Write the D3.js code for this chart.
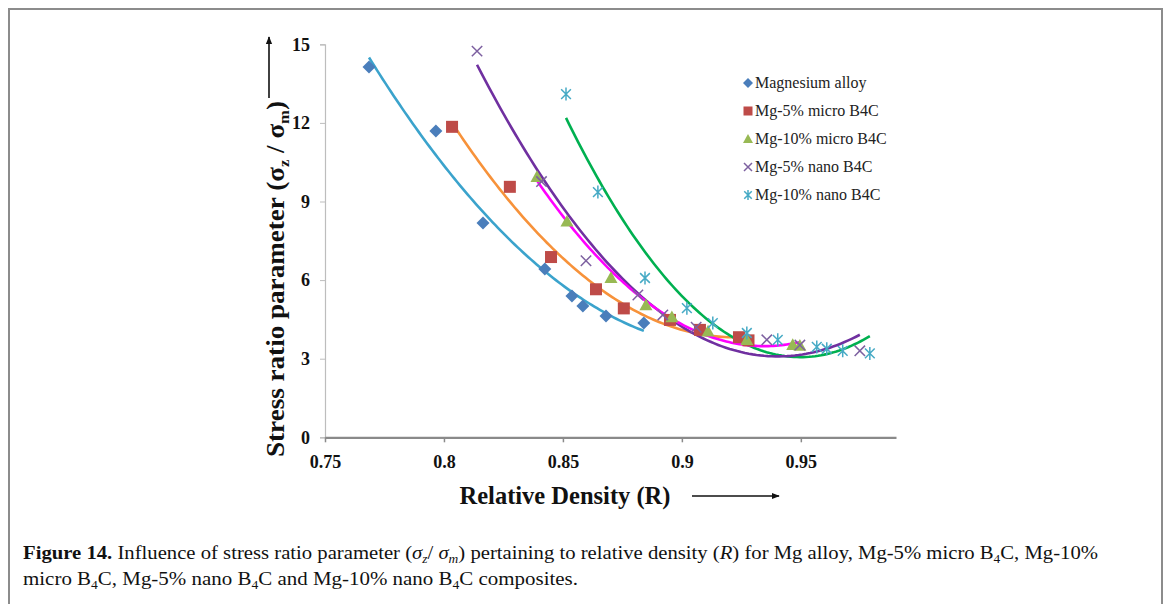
<!DOCTYPE html>
<html>
<head>
<meta charset="utf-8">
<script src="https://cdn.jsdelivr.net/npm/d3@7"></script>
<style>
  body { margin: 0; background: #fff; }
  svg { display: block; }
</style>
</head>
<body>
<div class="fig"></div>
<script>
var width = 1168;
var height = 604;

// data
var alloyX = [0.7685, 0.7966, 0.8164, 0.8424, 0.8538, 0.8584, 0.8681, 0.884];
var alloyY = [14.13, 11.69, 8.18, 6.42, 5.39, 5.01, 4.63, 4.36];

var micro5X = [0.8034, 0.8277, 0.845, 0.8639, 0.8756, 0.895, 0.9076, 0.924, 0.928];
var micro5Y = [11.85, 9.56, 6.88, 5.65, 4.92, 4.48, 4.1, 3.82, 3.7];

var micro10X = [0.8391, 0.8517, 0.8702, 0.8849, 0.8958, 0.911, 0.9273, 0.9466, 0.9496];
var micro10Y = [9.94, 8.24, 6.09, 5.05, 4.59, 4.05, 3.72, 3.53, 3.5];

var nano5X = [0.8139, 0.841, 0.8597, 0.8815, 0.892, 0.906, 0.9357, 0.9496, 0.9748];
var nano5Y = [14.74, 9.76, 6.74, 5.43, 4.67, 4.2, 3.72, 3.52, 3.3];

var nano10X = [0.8513, 0.8647, 0.8845, 0.9021, 0.913, 0.9273, 0.9403, 0.9567, 0.9609, 0.9676, 0.979];
var nano10Y = [13.1, 9.36, 6.08, 4.93, 4.36, 3.98, 3.72, 3.45, 3.38, 3.3, 3.2];

var seriesNames = ["Magnesium alloy", "Mg-5% micro B4C", "Mg-10% micro B4C", "Mg-5% nano B4C", "Mg-10% nano B4C"];
var markerColors = ["#4a7ebb", "#be4b48", "#98b954", "#7d60a0", "#46aac5"];
var trendColors = ["#3ba3cc", "#f7923a", "#ff00ff", "#7030a0", "#00b050"];
var markerTypes = ["diamond", "square", "triangle", "cross", "star"];

var xTicks = [0.75, 0.8, 0.85, 0.9, 0.95];
var yTicks = [0, 3, 6, 9, 12, 15];

var series = [
  {x: alloyX, y: alloyY},
  {x: micro5X, y: micro5Y},
  {x: micro10X, y: micro10Y},
  {x: nano5X, y: nano5Y},
  {x: nano10X, y: nano10Y}
];

var svg = d3.select(".fig").append("svg")
    .attr("width", width)
    .attr("height", height);

// figure frame
svg.append("rect")
    .attr("x", 9).attr("y", 9)
    .attr("width", 1153).attr("height", 620)
    .attr("fill", "none")
    .attr("stroke", "#8c8c8c")
    .attr("stroke-width", 2);

var x = d3.scaleLinear().domain([0.75, 0.99]).range([325, 896]);
var y = d3.scaleLinear().domain([0, 15]).range([437.3, 44.3]);

var serif = "'Liberation Serif', 'Times New Roman', serif";

// y axis
var yAxis = svg.append("g")
    .attr("transform", "translate(" + x(0.75) + ",0)")
    .call(d3.axisLeft(y).tickValues(yTicks).tickSize(5).tickPadding(10).tickFormat(d3.format("d")));
yAxis.select(".domain").attr("stroke", "#bdbdbd").attr("stroke-width", 1.2);
yAxis.selectAll(".tick line").attr("stroke", "#bdbdbd");
yAxis.selectAll(".tick text")
    .attr("font-family", serif).attr("font-weight", "bold")
    .attr("font-size", 18).attr("fill", "#111");

// x axis
var xAxis = svg.append("g")
    .attr("transform", "translate(0," + y(0) + ")")
    .call(d3.axisBottom(x).tickValues(xTicks).tickSize(5).tickPadding(13).tickSizeOuter(0).tickFormat(d3.format("")));
xAxis.select(".domain").attr("stroke", "#8a8a8a").attr("stroke-width", 2.2);
xAxis.selectAll(".tick line").attr("stroke", "#8a8a8a").attr("stroke-width", 1.5);
xAxis.selectAll(".tick text")
    .attr("font-family", serif).attr("font-weight", "bold")
    .attr("font-size", 18).attr("fill", "#111");

// least squares quadratic (Excel polynomial trendline, order 2)
function polyfit2(xs, ys) {
  var s = [0, 0, 0, 0, 0], t = [0, 0, 0];
  var x0 = d3.mean(xs);
  xs.forEach(function(v, i) {
    var u = v - x0, p = 1;
    for (var k = 0; k < 5; k++) { s[k] += p; if (k < 3) t[k] += p * ys[i]; p *= u; }
  });
  var A = [[s[0], s[1], s[2], t[0]], [s[1], s[2], s[3], t[1]], [s[2], s[3], s[4], t[2]]];
  for (var i = 0; i < 3; i++) {
    for (var j = i + 1; j < 3; j++) {
      var f = A[j][i] / A[i][i];
      for (var k = i; k < 4; k++) A[j][k] -= f * A[i][k];
    }
  }
  var c = [0, 0, 0];
  for (var i = 2; i >= 0; i--) {
    var sum = A[i][3];
    for (var k = i + 1; k < 3; k++) sum -= A[i][k] * c[k];
    c[i] = sum / A[i][i];
  }
  return function(v) { var u = v - x0; return c[0] + c[1] * u + c[2] * u * u; };
}

var line = d3.line()
    .x(function(d) { return x(d[0]); })
    .y(function(d) { return y(d[1]); });

var trendOrder = [0, 1, 4, 3, 2];
trendOrder.forEach(function(i) {
  var s = series[i];
  var f = polyfit2(s.x, s.y);
  var lo = d3.min(s.x), hi = d3.max(s.x);
  var pts = d3.range(0, 101).map(function(k) {
    var v = lo + (hi - lo) * k / 100;
    return [v, f(v)];
  });
  svg.append("path")
      .attr("d", line(pts))
      .attr("fill", "none")
      .attr("stroke", trendColors[i])
      .attr("stroke-width", 2.6);
});

function drawMarker(g, type, color, size) {
  var r = size / 2;
  if (type == "diamond") {
    g.append("path").attr("d", "M0," + (-r) + "L" + r + ",0L0," + r + "L" + (-r) + ",0Z").attr("fill", color);
  } else if (type == "square") {
    g.append("rect").attr("x", -r + 0.5).attr("y", -r + 0.5).attr("width", size - 1).attr("height", size - 1).attr("fill", color);
  } else if (type == "triangle") {
    g.append("path").attr("d", "M0," + (-r) + "L" + r + "," + (r * 0.8) + "L" + (-r) + "," + (r * 0.8) + "Z").attr("fill", color);
  } else if (type == "cross") {
    var q = r * 0.8;
    g.append("path").attr("d", "M" + (-q) + "," + (-q) + "L" + q + "," + q + "M" + (-q) + "," + q + "L" + q + "," + (-q))
      .attr("stroke", color).attr("stroke-width", 1.5).attr("fill", "none");
  } else if (type == "star") {
    var q = r * 0.75;
    g.append("path").attr("d", "M" + (-q) + "," + (-q) + "L" + q + "," + q + "M" + (-q) + "," + q + "L" + q + "," + (-q) + "M0," + (-r) + "L0," + r)
      .attr("stroke", color).attr("stroke-width", 1.5).attr("fill", "none");
  }
}

series.forEach(function(s, i) {
  s.x.forEach(function(v, k) {
    var g = svg.append("g").attr("transform", "translate(" + x(v) + "," + y(s.y[k]) + ")");
    drawMarker(g, markerTypes[i], markerColors[i], 13);
  });
});

// legend
var legend = svg.append("g").attr("transform", "translate(748,83)");
seriesNames.forEach(function(name, i) {
  var g = legend.append("g").attr("transform", "translate(0," + (i * 28) + ")");
  drawMarker(g, markerTypes[i], markerColors[i], 10);
  g.append("text")
      .attr("x", 7).attr("y", 5)
      .attr("font-family", serif).attr("font-size", 16).attr("fill", "#222")
      .text(name);
});

// axis titles
svg.append("text")
    .attr("x", 565).attr("y", 504)
    .attr("text-anchor", "middle")
    .attr("font-family", serif).attr("font-weight", "bold")
    .attr("font-size", 24.5).attr("fill", "#111")
    .text("Relative Density (R)");

svg.append("defs").append("marker")
    .attr("id", "arrow").attr("viewBox", "0 0 10 10")
    .attr("refX", 9).attr("refY", 5)
    .attr("markerWidth", 8).attr("markerHeight", 8)
    .attr("markerUnits", "userSpaceOnUse")
    .attr("orient", "auto")
  .append("path").attr("d", "M0,1L10,5L0,9Z").attr("fill", "#111");

svg.append("line")
    .attr("x1", 692).attr("y1", 496).attr("x2", 779).attr("y2", 496)
    .attr("stroke", "#111").attr("stroke-width", 1.6)
    .attr("marker-end", "url(#arrow)");

var yt = svg.append("text")
    .attr("transform", "translate(284,279) rotate(-90)")
    .attr("text-anchor", "middle")
    .attr("font-family", serif).attr("font-weight", "bold")
    .attr("font-size", 24.5).attr("fill", "#111")
    .attr("textLength", 356).attr("lengthAdjust", "spacingAndGlyphs");
yt.append("tspan").text("Stress ratio parameter (");
yt.append("tspan").text("σ");
yt.append("tspan").attr("font-size", 15).attr("dy", 5).text("z");
yt.append("tspan").attr("dy", -5).text(" / ");
yt.append("tspan").text("σ");
yt.append("tspan").attr("font-size", 15).attr("dy", 5).text("m");
yt.append("tspan").attr("dy", -5).text(")");

svg.append("line")
    .attr("x1", 269).attr("y1", 98).attr("x2", 269).attr("y2", 37)
    .attr("stroke", "#111").attr("stroke-width", 1.6)
    .attr("marker-end", "url(#arrow)");

// caption
var cap1 = svg.append("text")
    .attr("x", 23).attr("y", 559)
    .attr("font-family", serif).attr("font-size", 18.5).attr("fill", "#111")
    .attr("textLength", 1075).attr("lengthAdjust", "spacingAndGlyphs");
cap1.append("tspan").attr("font-weight", "bold").text("Figure 14.");
cap1.append("tspan").text(" Influence of stress ratio parameter (");
cap1.append("tspan").attr("font-style", "italic").text("σ");
cap1.append("tspan").attr("font-style", "italic").attr("font-size", 12).attr("dy", 4).text("z");
cap1.append("tspan").attr("dy", -4).text("/ ");
cap1.append("tspan").attr("font-style", "italic").text("σ");
cap1.append("tspan").attr("font-style", "italic").attr("font-size", 12).attr("dy", 4).text("m");
cap1.append("tspan").attr("dy", -4).text(") pertaining to relative density (");
cap1.append("tspan").attr("font-style", "italic").text("R");
cap1.append("tspan").text(") for Mg alloy, Mg-5% micro B");
cap1.append("tspan").attr("font-size", 12).attr("dy", 4).text("4");
cap1.append("tspan").attr("dy", -4).text("C, Mg-10%");

var cap2 = svg.append("text")
    .attr("x", 23).attr("y", 585)
    .attr("font-family", serif).attr("font-size", 18.5).attr("fill", "#111")
    .attr("textLength", 555).attr("lengthAdjust", "spacingAndGlyphs");
cap2.append("tspan").text("micro B");
cap2.append("tspan").attr("font-size", 12).attr("dy", 4).text("4");
cap2.append("tspan").attr("dy", -4).text("C, Mg-5% nano B");
cap2.append("tspan").attr("font-size", 12).attr("dy", 4).text("4");
cap2.append("tspan").attr("dy", -4).text("C and Mg-10% nano B");
cap2.append("tspan").attr("font-size", 12).attr("dy", 4).text("4");
cap2.append("tspan").attr("dy", -4).text("C composites.");
</script>
</body>
</html>
